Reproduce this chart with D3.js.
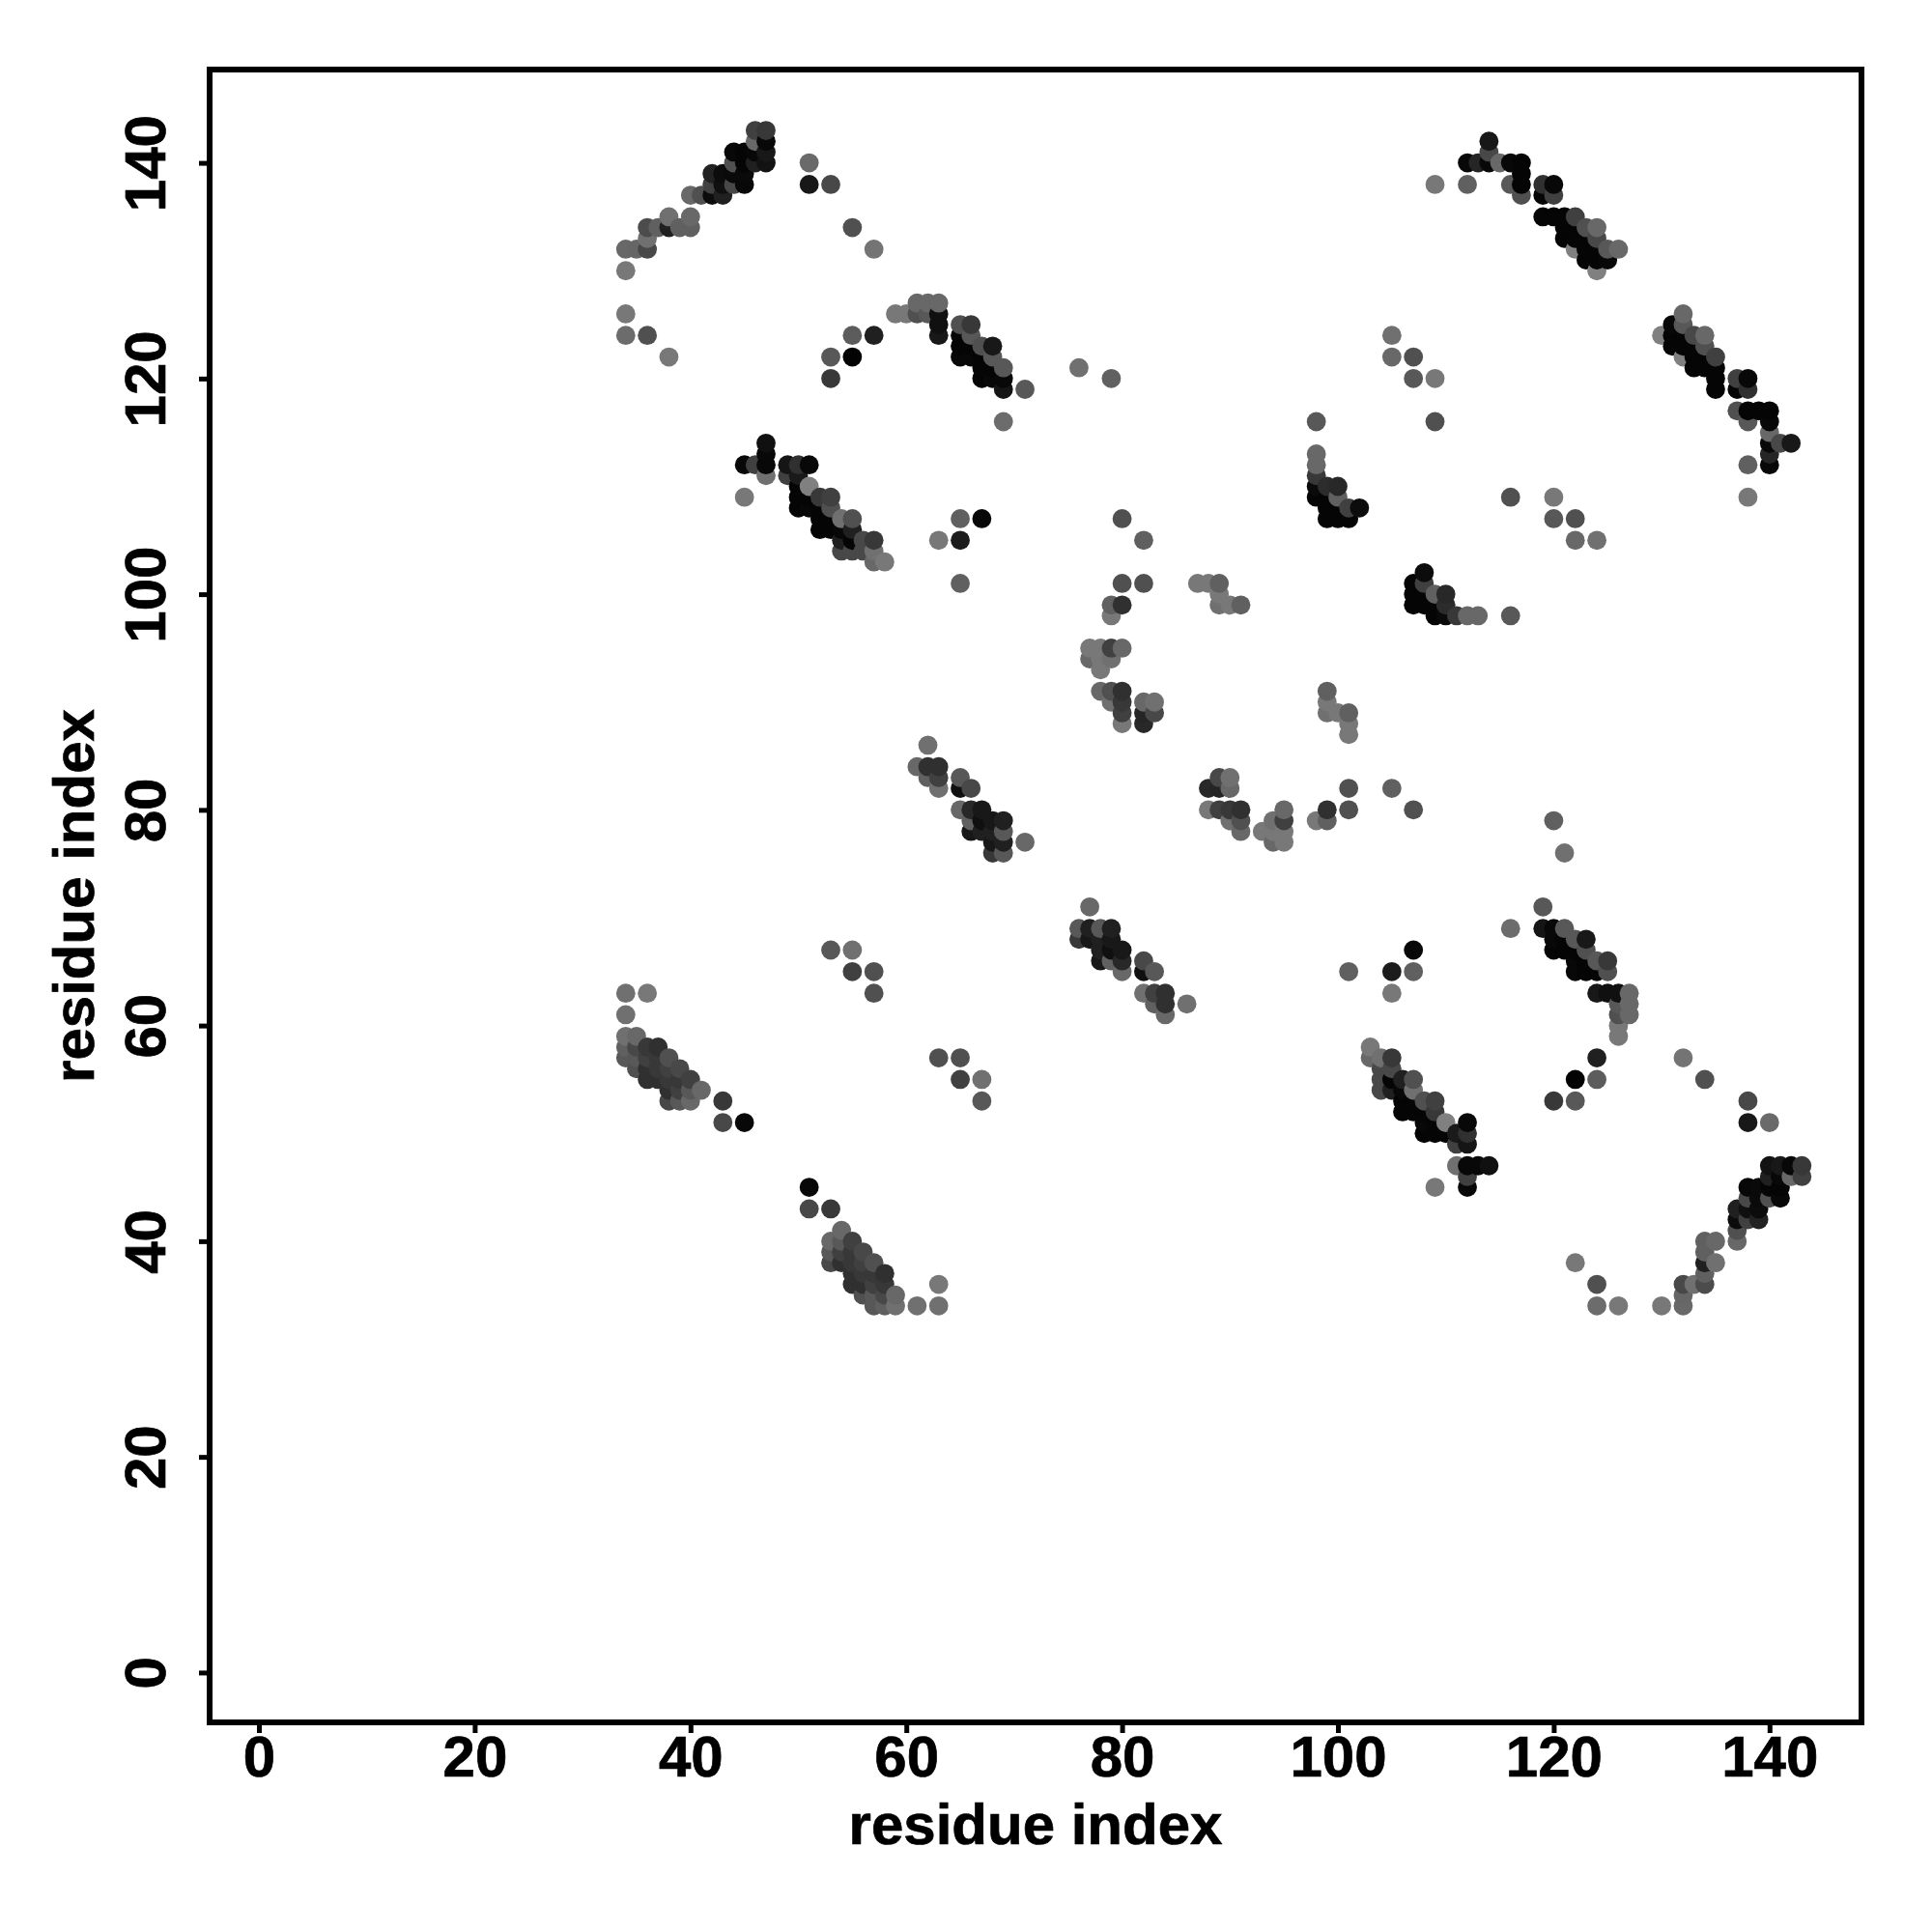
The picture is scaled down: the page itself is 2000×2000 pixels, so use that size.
<!DOCTYPE html>
<html><head><meta charset="utf-8">
<script src="https://cdnjs.cloudflare.com/ajax/libs/d3/7.8.5/d3.min.js"></script>
<style>html,body{margin:0;background:#fff}svg{display:block}text{font-family:"Liberation Sans",Arial,sans-serif;font-weight:bold;fill:#000;stroke:#000;stroke-width:.7px}</style>
</head><body><div id="chart"></div>
<script>
// Each row: residue i, residue j (i<j), shade (0 = black … 0x80 = mid grey). The map is symmetric.
const helixNorth=[[34,132,0x68],[35,132,0x66],[36,132,0x48],[36,133,0x70],[36,134,0x4c],[37,134,0x60],[38,135,0x70],[38,134,0x20],[39,134,0x60],[40,135,0x68],[40,134,0x60],[34,130,0x78],[34,126,0x78],[34,124,0x6c],[36,124,0x50],[38,122,0x78],[40,137,0x68],[41,137,0x50],[42,137,0x0c],[43,137,0x20],[42,138,0x40],[42,139,0x22],[43,138,0x10],[43,139,0x0c],[44,138,0x48],[44,139,0x0a],[44,140,0x50],[44,141,0x08],[45,138,0x08],[45,139,0x0a],[45,140,0x05],[45,141,0x05],[46,140,0x20],[46,141,0x08],[46,142,0x68],[46,143,0x40],[47,140,0x12],[47,141,0x18],[47,142,0x08],[47,143,0x38],[51,140,0x6a],[51,138,0x18],[53,138,0x48],[55,134,0x50],[57,132,0x74]];
const helixEast=[[109,138,0x78],[112,138,0x60],[112,140,0x08],[113,140,0x25],[114,140,0x08],[114,141,0x48],[114,142,0x18],[115,140,0x68],[116,140,0x08],[116,138,0x58],[117,140,0x05],[117,139,0x05],[117,138,0x05],[117,137,0x50],[119,138,0x30],[120,138,0x08],[119,137,0x05],[120,137,0x40],[119,135,0x05],[120,135,0x05],[121,135,0x05],[122,135,0x40],[121,134,0x05],[121,133,0x05],[122,134,0x05],[122,133,0x05],[122,132,0x80],[123,134,0x50],[123,133,0x05],[123,132,0x05],[123,131,0x05],[124,134,0x68],[124,133,0x48],[124,132,0x05],[124,131,0x05],[124,130,0x80],[125,132,0x58],[125,131,0x08],[126,132,0x68],[105,124,0x70],[105,122,0x68],[107,122,0x50],[107,120,0x58],[109,120,0x78],[109,116,0x50]];
const strandMid=[[53,122,0x58],[55,122,0x03],[55,124,0x5c],[57,124,0x20],[53,120,0x38],[59,126,0x78],[60,126,0x78],[61,127,0x68],[61,126,0x50],[62,127,0x68],[62,126,0x58],[63,127,0x68],[63,126,0x10],[63,125,0x10],[63,124,0x18],[65,125,0x50],[66,125,0x38],[65,124,0x05],[66,124,0x58],[65,123,0x05],[66,123,0x05],[65,122,0x08],[66,122,0x08],[67,123,0x50],[68,123,0x18],[67,122,0x05],[68,122,0x58],[67,121,0x05],[68,121,0x05],[69,121,0x58],[67,120,0x05],[68,120,0x08],[69,120,0x08],[69,119,0x15],[71,119,0x58],[69,116,0x6c],[76,121,0x70],[79,120,0x60]];
const strandWest=[[45,112,0x08],[46,112,0x40],[47,112,0x08],[47,113,0x08],[47,114,0x10],[47,111,0x70],[45,109,0x78],[49,112,0x15],[50,112,0x30],[51,112,0x08],[49,111,0x40],[50,111,0x1a],[50,110,0x05],[50,109,0x05],[50,108,0x05],[51,110,0x80],[51,109,0x05],[51,108,0x08],[52,109,0x38],[52,108,0x05],[52,107,0x05],[52,106,0x05],[53,109,0x40],[53,108,0x50],[53,107,0x05],[53,106,0x05],[54,107,0x70],[54,106,0x08],[54,105,0x20],[54,104,0x48],[55,107,0x50],[55,106,0x20],[55,105,0x05],[55,104,0x48],[56,105,0x48],[56,104,0x48],[57,105,0x38],[57,104,0x70],[57,103,0x68],[58,103,0x78],[63,105,0x78],[65,105,0x1c],[65,107,0x60],[65,101,0x60],[67,107,0x08],[80,107,0x50],[82,105,0x60]];
const strandCentre=[[98,116,0x58],[98,113,0x68],[98,112,0x68],[98,111,0x38],[98,110,0x0a],[98,109,0x05],[99,110,0x2c],[99,109,0x05],[99,108,0x05],[99,107,0x05],[100,110,0x28],[100,109,0x60],[100,108,0x05],[100,107,0x05],[101,108,0x40],[101,107,0x05],[102,108,0x0c]];
const loopCentre=[[80,101,0x50],[82,101,0x50],[79,99,0x60],[80,99,0x30],[79,98,0x78],[77,95,0x78],[78,95,0x78],[79,95,0x40],[80,95,0x68],[77,94,0x68],[78,94,0x78],[79,94,0x70],[78,93,0x78],[78,91,0x68],[79,91,0x50],[80,91,0x30],[79,90,0x70],[80,90,0x38],[80,89,0x40],[80,88,0x78],[82,90,0x68],[83,90,0x70],[82,89,0x25],[83,89,0x48],[82,88,0x28],[87,101,0x78],[88,101,0x78],[89,101,0x60],[89,100,0x78],[89,99,0x70],[90,99,0x78],[91,99,0x60]];
const helixCentre=[[62,86,0x70],[61,84,0x68],[62,84,0x30],[63,84,0x30],[62,83,0x60],[63,83,0x40],[63,82,0x70],[65,83,0x58],[65,82,0x10],[66,82,0x48],[65,80,0x68],[66,80,0x28],[67,80,0x18],[66,79,0x60],[67,79,0x10],[68,79,0x18],[69,79,0x20],[66,78,0x18],[67,78,0x20],[68,78,0x20],[69,78,0x58],[68,77,0x18],[69,77,0x20],[71,77,0x68],[68,76,0x38],[69,76,0x58]];
const helixSouth=[[34,57,0x58],[34,58,0x60],[34,59,0x70],[35,56,0x50],[35,57,0x58],[35,58,0x48],[35,59,0x68],[36,55,0x30],[36,56,0x30],[36,57,0x40],[36,58,0x38],[37,55,0x30],[37,56,0x38],[37,57,0x38],[37,58,0x30],[38,53,0x48],[38,54,0x30],[38,55,0x38],[38,56,0x40],[38,57,0x50],[39,53,0x58],[39,54,0x40],[39,55,0x38],[39,56,0x48],[40,53,0x68],[40,54,0x58],[40,55,0x40],[41,54,0x68],[43,53,0x38],[43,51,0x48],[45,51,0x08],[34,61,0x70],[34,63,0x70],[36,63,0x78],[53,67,0x58],[55,67,0x70],[55,65,0x40],[57,65,0x50],[57,63,0x50]];
const axisTicks=[0,20,40,60,80,100,120,140];
const axisTitle="residue index";

const contacts=[helixNorth,helixEast,strandMid,strandWest,strandCentre,loopCentre,helixCentre,helixSouth].flat();
const points=contacts.flatMap(([i,j,s])=>[{x:i,y:j,s},{x:j,y:i,s}])
  .sort((a,b)=>d3.ascending(a.x,b.x)||d3.ascending(a.y,b.y));

const W=2000,H=2000,L=217,R=1927,T=72,B=1783;
const x=d3.scaleLinear().domain([0,140]).range([268,1831.8]);
const y=d3.scaleLinear().domain([0,140]).range([1731.4,168.6]);
const grey=d3.scaleLinear().domain([0,128]).range(["#000000","#808080"]);

const svg=d3.select("#chart").append("svg").attr("width",W).attr("height",H);
svg.append("g").selectAll("circle").data(points).join("circle")
  .attr("cx",d=>x(d.x)).attr("cy",d=>y(d.y)).attr("r",9.9).attr("fill",d=>grey(d.s));

const gx=svg.append("g").attr("transform",`translate(0,${B})`)
  .call(d3.axisBottom(x).tickValues(axisTicks).tickSize(11).tickFormat(d3.format("d")));
gx.select(".domain").remove();
gx.selectAll("line").attr("stroke","#000").attr("stroke-width",5);
gx.selectAll("text").attr("y",56).attr("dy",0).attr("font-size",60).attr("text-anchor","middle").style("font-family",'"Liberation Sans"');

const gy=svg.append("g").attr("transform",`translate(${L},0)`)
  .call(d3.axisLeft(y).tickValues(axisTicks).tickSize(11).tickFormat(d3.format("d")));
gy.select(".domain").remove();
gy.selectAll("line").attr("stroke","#000").attr("stroke-width",5);
gy.selectAll("text").attr("x",0).attr("y",0).attr("dy",0).attr("font-size",60).attr("text-anchor","middle")
  .attr("transform","translate(-46,0) rotate(-90)").style("font-family",'"Liberation Sans"');

svg.append("rect").attr("x",L).attr("y",T).attr("width",R-L).attr("height",B-T)
  .attr("fill","none").attr("stroke","#000").attr("stroke-width",6);

svg.append("text").attr("x",(L+R)/2).attr("y",1909).attr("text-anchor","middle").attr("font-size",60).text(axisTitle);
svg.append("text").attr("transform",`translate(97,${(T+B)/2}) rotate(-90)`).attr("text-anchor","middle").attr("font-size",60).text(axisTitle);
</script></body></html>
